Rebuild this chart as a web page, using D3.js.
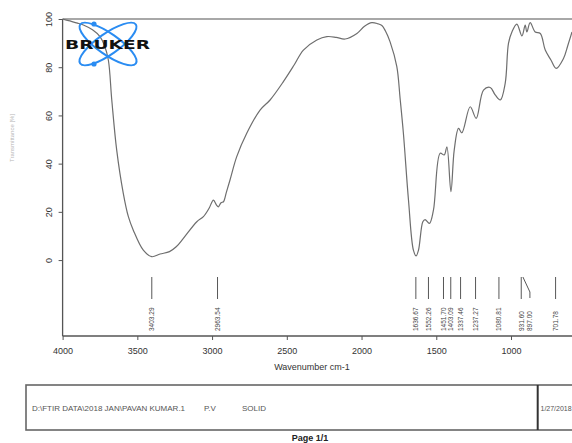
<!DOCTYPE html>
<html><head><meta charset="utf-8">
<script src="https://cdn.jsdelivr.net/npm/d3@7"></script>
<style>
html,body{margin:0;padding:0;background:#fff;overflow:hidden;}
svg{display:block;font-family:"Liberation Sans",Arial,sans-serif;}
</style></head>
<body>
<svg id="c" width="572" height="443"></svg>
<script>
// Spectrum: wavenumber (cm-1) and transmittance (%)
const wavenumbers = [4000,3960,3900,3861,3800,3750,3720,3694,3671,3638,3594,3560,3527,3460,3404,3348,3285,3240,3192,3102,3058,3020,2991,2970,2958,2940,2924,2905,2880,2835,2768,2679,2612,2523,2450,2389,2299,2232,2170,2110,2031,1980,1931,1890,1864,1840,1809,1764,1742,1720,1686,1653,1635,1619,1590,1575,1546,1519,1474,1447,1429,1402,1380,1351,1329,1273,1233,1184,1139,1106,1072,1039,1017,994,961,927,905,894,872,838,804,771,733,698,649,620,592];
const transmittance = [100,99.3,98.3,97.5,95.5,92.7,89,83,66.4,45.6,27.7,18,12.4,4.1,1.4,2.5,3.5,5.5,9,15.9,18,21.5,24.9,22.8,22.1,23.8,24.2,28,33.2,42.9,52.6,62.2,66.4,74,81,87.1,91.3,92.7,92.4,91.7,94,97,98.5,98,97.3,95,90.5,80.2,67,52.6,24.9,4.1,1.7,4.1,15.9,16.8,15.2,20.7,44.3,43.6,47,28.4,45.6,54.6,52.8,63.6,58.8,70.5,71.6,68.5,66.4,73.3,89.9,94.6,97.9,93,97.5,94.6,98.5,94.6,94,87.1,83,79.5,83.6,89,94.6];
const peakLabels = ["3403.29","2963.54","1636.67","1552.26","1451.70","1403.09","1337.46","1237.27","1080.81","931.60","897.00","701.78"];
const xTicks = [4000,3500,3000,2500,2000,1500,1000];
const yTicks = [0,20,40,60,80,100];
const footerTexts = ["D:\\FTIR DATA\\2018 JAN\\PAVAN KUMAR.1","P.V","SOLID"];
const footerDate = "1/27/2018";

const svg = d3.select("#c");
const x = d3.scaleLinear().domain([4000,592]).range([62.6,572]);
const y = d3.scaleLinear().domain([-31.5,100]).range([336,19]);

// top border
svg.append("line").attr("x1",x(4000)).attr("x2",572).attr("y1",y(100)).attr("y2",y(100))
  .attr("stroke","#a8a8a8").attr("stroke-width",2);

// axes
const gx = svg.append("g").attr("transform","translate(0,336)")
  .call(d3.axisBottom(x).tickValues(xTicks).tickSize(4).tickPadding(8).tickFormat(d3.format("d")));
gx.select(".domain").attr("stroke","#555").attr("stroke-width",1.3).attr("d","M"+x(4000)+",0H572");
gx.selectAll(".tick line").attr("stroke","#555");
gx.selectAll("text").attr("font-size",9).attr("fill","#333");

const gy = svg.append("g").attr("transform","translate("+x(4000)+",0)")
  .call(d3.axisLeft(y).tickValues(yTicks).tickSize(4).tickPadding(0));
gy.select(".domain").attr("stroke","#555").attr("stroke-width",1.3).attr("d","M0,"+y(100)+"V336");
gy.selectAll(".tick line").attr("stroke","#555");
gy.selectAll(".tick text").attr("font-size",9).attr("fill","#333")
  .attr("text-anchor","middle").attr("transform","translate(-14,0) rotate(-90)").attr("x",0).attr("dy","0.35em");

svg.append("text").attr("x",312).attr("y",370).attr("text-anchor","middle")
  .attr("font-size",9).attr("fill","#333").text("Wavenumber cm-1");
svg.append("text").attr("transform","translate(14,138) rotate(-90)").attr("text-anchor","middle")
  .attr("font-size",6).attr("fill","#b8b8b8").text("Transmittance [%]");

// spectrum line
const pts = wavenumbers.map((w,i)=>[w,transmittance[i]]);
svg.append("path").datum(pts)
  .attr("fill","none").attr("stroke","#6e6e6e").attr("stroke-width",1.2)
  .attr("d", d3.line().x(d=>x(d[0])).y(d=>y(d[1])).curve(d3.curveCatmullRom.alpha(0.5)));

// peak labels
const pg = svg.append("g");
peakLabels.forEach(l=>{
  const v = +l, px = x(v);
  if (l==="897.00") {
    pg.append("path").attr("d","M"+(px-3.5)+",277L"+(px+3.5)+",292V298")
      .attr("fill","none").attr("stroke","#444").attr("stroke-width",0.9);
  } else {
    pg.append("line").attr("x1",px).attr("x2",px).attr("y1",277).attr("y2",299)
      .attr("stroke","#444").attr("stroke-width",0.9);
  }
  const tx = l==="897.00" ? px+3.5 : px;
  pg.append("text").attr("transform","translate("+(tx+2.5)+",331) rotate(-90)")
    .attr("font-size",6.5).attr("fill","#444").text(l);
});

// Bruker logo
const logo = svg.append("g").attr("transform","translate(108,44)");
[-35,35].forEach(a=>{
  logo.append("ellipse").attr("rx",34).attr("ry",10.5).attr("transform","rotate("+a+")")
    .attr("fill","none").attr("stroke","#2a8cf2").attr("stroke-width",2);
});
logo.append("circle").attr("cx",-14).attr("cy",-20).attr("r",2.6).attr("fill","#2a8cf2");
logo.append("circle").attr("cx",-14).attr("cy",20).attr("r",2.6).attr("fill","#2a8cf2");
logo.append("text").attr("x",-43).attr("y",4.5).attr("font-family","DejaVu Sans")
  .attr("font-weight","bold").attr("font-size",12.5).attr("fill","#111")
  .attr("textLength",85).attr("lengthAdjust","spacingAndGlyphs").text("BRUKER");

// footer
svg.append("rect").attr("x",26).attr("y",385).attr("width",560).attr("height",45)
  .attr("fill","none").attr("stroke","#666").attr("stroke-width",1.6);
svg.append("line").attr("x1",537.7).attr("x2",537.7).attr("y1",385).attr("y2",430)
  .attr("stroke","#333").attr("stroke-width",2);
const fx = [32,204,242];
footerTexts.forEach((t,i)=>{
  svg.append("text").attr("x",fx[i]).attr("y",410.5).attr("font-size",8).attr("fill","#555").text(t);
});
svg.append("text").attr("x",540.5).attr("y",410.5).attr("font-size",7).attr("fill","#555").text(footerDate);
svg.append("text").attr("x",310).attr("y",441).attr("text-anchor","middle").attr("font-size",9)
  .attr("font-weight","bold").attr("fill","#222").text("Page 1/1");
</script>
</body></html>
